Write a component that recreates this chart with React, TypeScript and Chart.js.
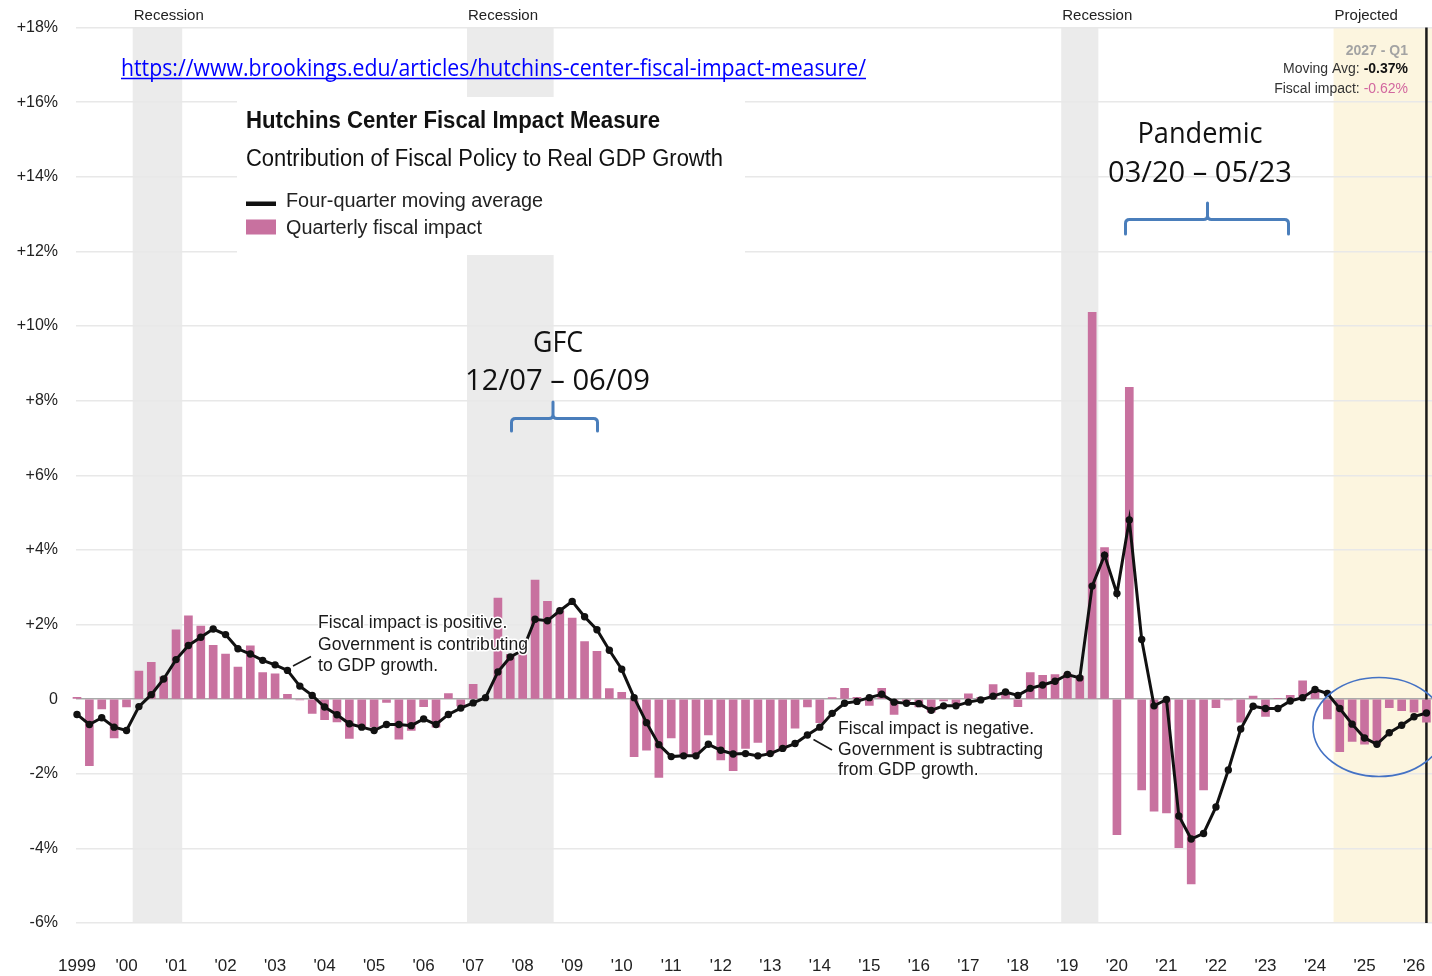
import React, { useEffect, useRef } from "react";
import { Chart, registerables } from "chart.js";

Chart.register(...registerables);

// Quarterly data: index 0 = 1999 Q4 ... index 109 = 2027 Q1
const quarterlyImpact: number[] = [
  0.05, -1.78, -0.26, -1.04, -0.21, 0.75, 0.99, 0.6, 1.86, 2.23,
  1.96, 1.44, 1.21, 0.86, 1.43, 0.71, 0.68, 0.13, -0.02, -0.38,
  -0.55, -0.61, -1.05, -0.75, -0.75, -0.09, -1.07, -0.84, -0.2, -0.75,
  0.15, -0.18, 0.4, 0.02, 2.71, 1.2, 1.19, 3.19, 2.62, 2.37,
  2.17, 1.54, 1.28, 0.28, 0.18, -1.54, -1.37, -2.1, -1.04, -1.49,
  -1.47, -0.96, -1.63, -1.92, -1.32, -1.16, -1.47, -1.34, -0.78, -0.21,
  -0.63, 0.04, 0.29, 0.05, -0.17, 0.29, -0.41, -0.05, -0.21, -0.35,
  -0.05, -0.12, 0.14, 0.05, 0.39, 0.15, -0.2, 0.71, 0.64, 0.66,
  0.68, 0.62, 10.37, 4.06, -3.63, 8.36, -2.43, -3.0, -3.05, -3.98,
  -4.95, -2.43, -0.23, -0.02, -0.62, 0.08, -0.46, 0.02, 0.1, 0.49,
  0.23, -0.53, -1.41, -1.13, -1.21, -1.2, -0.23, -0.31, -0.35, -0.62,
];

const movingAvg: number[] = [
  -0.41, -0.68, -0.5, -0.75, -0.84, -0.2, 0.12, 0.54, 1.06, 1.44,
  1.66, 1.88, 1.73, 1.35, 1.21, 1.04, 0.92, 0.77, 0.35, 0.1,
  -0.21, -0.42, -0.66, -0.75, -0.84, -0.68, -0.68, -0.71, -0.53, -0.68,
  -0.41, -0.24, -0.1, 0.04, 0.73, 1.13, 1.31, 2.14, 2.1, 2.37,
  2.62, 2.21, 1.86, 1.31, 0.8, 0.04, -0.63, -1.22, -1.54, -1.52,
  -1.52, -1.21, -1.37, -1.47, -1.46, -1.52, -1.46, -1.32, -1.19, -0.96,
  -0.75, -0.38, -0.11, -0.06, 0.04, 0.13, -0.08, -0.11, -0.12, -0.3,
  -0.18, -0.18, -0.08, -0.02, 0.08, 0.19, 0.1, 0.29, 0.38, 0.48,
  0.66, 0.57, 3.03, 3.86, 2.83, 4.8, 1.6, -0.18, -0.01, -3.13,
  -3.75, -3.6, -2.89, -1.9, -0.8, -0.19, -0.25, -0.25, -0.05, 0.04,
  0.26, 0.15, -0.25, -0.67, -1.04, -1.21, -0.9, -0.7, -0.47, -0.37,
];

// One label every 4 quarters, starting at index 0
const xTickLabels: string[] = [
  "1999", "'00", "'01", "'02", "'03", "'04", "'05", "'06", "'07", "'08",
  "'09", "'10", "'11", "'12", "'13", "'14", "'15", "'16", "'17", "'18",
  "'19", "'20", "'21", "'22", "'23", "'24", "'25", "'26",
];

const yMin = -6;
const yMax = 18;
const yStep = 2;

// Recessions (quarter indices, inclusive)
const recessionStart = [5, 32, 80];
const recessionEnd = [8, 38, 82];
const projectedStart = 102;
const lastQuarterName = "2027 - Q1";

const BAR_COLOR = "#c8719f";
const SANS = "'Liberation Sans', Arial, Helvetica, sans-serif";
const CAL = "'Open Sans', 'Noto Sans', sans-serif";
const BLUE_MARK = "#4a7ebb";

type TOpts = {
  size: number;
  family?: string;
  weight?: string;
  width?: number;
  scale?: number;
  align?: "left" | "center" | "right";
  color?: string;
  halo?: number;
};

function drawText(ctx: CanvasRenderingContext2D, text: string, x: number, y: number, o: TOpts): number {
  ctx.save();
  ctx.font = `${o.weight || "normal"} ${o.size}px ${o.family || SANS}`;
  const w = ctx.measureText(text).width;
  const s = o.scale ?? (o.width ? o.width / w : 1);
  const tw = w * s;
  const left = o.align === "center" ? x - tw / 2 : o.align === "right" ? x - tw : x;
  ctx.translate(left, y);
  ctx.scale(s, 1);
  ctx.textAlign = "left";
  ctx.textBaseline = "alphabetic";
  if (o.halo) {
    ctx.strokeStyle = "#ffffff";
    ctx.lineWidth = o.halo;
    ctx.lineJoin = "round";
    ctx.strokeText(text, 0, 0);
  }
  ctx.fillStyle = o.color || "#1a1a1a";
  ctx.fillText(text, 0, 0);
  ctx.restore();
  return tw;
}

function measure(ctx: CanvasRenderingContext2D, text: string, size: number, family = SANS, weight = "normal") {
  ctx.save();
  ctx.font = `${weight} ${size}px ${family}`;
  const w = ctx.measureText(text).width;
  ctx.restore();
  return w;
}

function bracket(ctx: CanvasRenderingContext2D, x1: number, x2: number, xm: number, yH: number, yEnd: number, yTip: number) {
  ctx.save();
  ctx.strokeStyle = BLUE_MARK;
  ctx.lineWidth = 3;
  ctx.lineJoin = "round";
  ctx.lineCap = "round";
  const r = 4;
  ctx.beginPath();
  ctx.moveTo(x1, yEnd);
  ctx.lineTo(x1, yH + r);
  ctx.quadraticCurveTo(x1, yH, x1 + r, yH);
  ctx.lineTo(xm - r, yH);
  ctx.quadraticCurveTo(xm, yH, xm, yH - r);
  ctx.lineTo(xm, yTip);
  ctx.moveTo(xm, yH - r);
  ctx.quadraticCurveTo(xm, yH, xm + r, yH);
  ctx.lineTo(x2 - r, yH);
  ctx.quadraticCurveTo(x2, yH, x2, yH + r);
  ctx.lineTo(x2, yEnd);
  ctx.stroke();
  ctx.restore();
}

const decorPlugin = {
  id: "decor",
  beforeDraw(chart: any) {
    const { ctx, chartArea: a } = chart;
    const xs = chart.scales.x;
    ctx.save();
    ctx.fillStyle = "#ffffff";
    ctx.fillRect(0, 0, chart.width, chart.height);
    ctx.fillStyle = "#ebebeb";
    recessionStart.forEach((s, k) => {
      const x1 = xs.getPixelForValue(s - 0.5);
      const x2 = xs.getPixelForValue(recessionEnd[k] + 0.5);
      ctx.fillRect(x1, a.top, x2 - x1, a.bottom - a.top);
    });
    ctx.fillStyle = "#fcf5df";
    const p1 = xs.getPixelForValue(projectedStart - 0.5);
    ctx.fillRect(p1, a.top, a.right - p1, a.bottom - a.top);
    ctx.restore();
  },
  beforeDatasetsDraw(chart: any) {
    const { ctx, chartArea: a } = chart;
    const xs = chart.scales.x;
    ctx.save();
    // legend / title box
    ctx.fillStyle = "#ffffff";
    ctx.fillRect(237, 97, 508, 158);
    // last-quarter marker line
    const xl = xs.getPixelForValue(quarterlyImpact.length - 1);
    ctx.strokeStyle = "#1a1a1a";
    ctx.lineWidth = 2.5;
    ctx.beginPath();
    ctx.moveTo(xl, a.top);
    ctx.lineTo(xl, a.bottom);
    ctx.stroke();
    ctx.restore();
  },
  afterDraw(chart: any) {
    const { ctx } = chart;
    const xs = chart.scales.x;

    // band labels
    recessionStart.forEach((s) => {
      drawText(ctx, "Recession", xs.getPixelForValue(s - 0.5) + 1, 20, { size: 15, color: "#222" });
    });
    drawText(ctx, "Projected", xs.getPixelForValue(projectedStart - 0.5) + 1, 20, { size: 15, color: "#222" });

    // hover readout
    const last = quarterlyImpact.length - 1;
    drawText(ctx, lastQuarterName, 1408, 55, { size: 14, weight: "bold", color: "#a3a3a3", align: "right" });
    const ma = movingAvg[last].toFixed(2) + "%";
    const fi = quarterlyImpact[last].toFixed(2) + "%";
    const w1 = drawText(ctx, ma, 1408, 72.5, { size: 14, weight: "bold", color: "#111", align: "right" });
    drawText(ctx, "Moving Avg: ", 1408 - w1, 72.5, { size: 14, color: "#333", align: "right" });
    const w2 = drawText(ctx, fi, 1408, 92.5, { size: 14, color: "#d2679f", align: "right" });
    drawText(ctx, "Fiscal impact: ", 1408 - w2, 92.5, { size: 14, color: "#333", align: "right" });

    // link
    const link = "https://www.brookings.edu/articles/hutchins-center-fiscal-impact-measure/";
    drawText(ctx, link, 121, 76, { size: 24, family: CAL, width: 745, color: "#0000ff" });
    ctx.save();
    ctx.strokeStyle = "#0000ff";
    ctx.lineWidth = 1.5;
    ctx.beginPath();
    ctx.moveTo(121, 78.5);
    ctx.lineTo(866, 78.5);
    ctx.stroke();
    ctx.restore();

    // legend box contents
    drawText(ctx, "Hutchins Center Fiscal Impact Measure", 246, 128, { size: 23, weight: "bold", width: 414, color: "#111" });
    drawText(ctx, "Contribution of Fiscal Policy to Real GDP Growth", 246, 166, { size: 23, width: 477, color: "#111" });
    ctx.save();
    ctx.fillStyle = "#111";
    ctx.fillRect(246, 201.5, 30, 4.5);
    ctx.fillStyle = BAR_COLOR;
    ctx.fillRect(246, 219.5, 30, 15);
    ctx.restore();
    drawText(ctx, "Four-quarter moving average", 286, 207, { size: 20, width: 257, color: "#222" });
    drawText(ctx, "Quarterly fiscal impact", 286, 234, { size: 20, width: 196, color: "#222" });

    // positive / negative notes
    const sPos = 210 / measure(ctx, "Government is contributing", 17.5);
    ["Fiscal impact is positive.", "Government is contributing", "to GDP growth."].forEach((t, i) => {
      drawText(ctx, t, 318, 628 + i * 21.5, { size: 17.5, scale: sPos, color: "#1a1a1a", halo: 3 });
    });
    const sNeg = 205 / measure(ctx, "Government is subtracting", 17.5);
    ["Fiscal impact is negative.", "Government is subtracting", "from GDP growth."].forEach((t, i) => {
      drawText(ctx, t, 838, 734 + i * 20.5, { size: 17.5, scale: sNeg, color: "#1a1a1a", halo: 3 });
    });
    ctx.save();
    ctx.strokeStyle = "#1a1a1a";
    ctx.lineWidth = 1.6;
    ctx.beginPath();
    ctx.moveTo(293, 666);
    ctx.lineTo(311, 656.5);
    ctx.moveTo(813.5, 739.5);
    ctx.lineTo(832, 750);
    ctx.stroke();
    ctx.restore();

    // event labels
    drawText(ctx, "GFC", 558, 352, { size: 29, family: CAL, width: 50, align: "center", color: "#111" });
    drawText(ctx, "12/07 \u2013 06/09", 557.5, 390, { size: 29, family: CAL, width: 185, align: "center", color: "#111" });
    bracket(ctx, 511.5, 597.5, 553, 418.5, 431, 402);
    drawText(ctx, "Pandemic", 1200, 143, { size: 29, family: CAL, width: 125, align: "center", color: "#111" });
    drawText(ctx, "03/20 \u2013 05/23", 1200, 182, { size: 29, family: CAL, width: 184, align: "center", color: "#111" });
    bracket(ctx, 1125.5, 1288.5, 1207.5, 219.5, 234, 203);

    // projection ellipse
    ctx.save();
    ctx.strokeStyle = "#4472c4";
    ctx.lineWidth = 1.6;
    ctx.beginPath();
    ctx.ellipse(1379, 727, 66, 49.5, 0, 0, Math.PI * 2);
    ctx.stroke();
    ctx.restore();
  },
};

export default function App() {
  const ref = useRef<HTMLCanvasElement>(null);

  useEffect(() => {
    const canvas = ref.current;
    if (!canvas) return;
    Chart.defaults.font.family = SANS;
    const chart = new Chart(canvas, {
      type: "bar",
      data: {
        datasets: [
          {
            type: "line",
            label: "Four-quarter moving average",
            data: movingAvg.map((v, i) => ({ x: i, y: v })),
            borderColor: "#111111",
            borderWidth: 3,
            pointRadius: 3.7,
            pointBackgroundColor: "#111111",
            pointBorderWidth: 0,
            tension: 0,
            order: 1,
            clip: 8,
          } as any,
          {
            type: "bar",
            label: "Quarterly fiscal impact",
            data: quarterlyImpact.map((v, i) => ({ x: i, y: v })),
            backgroundColor: BAR_COLOR,
            barThickness: 8,
            borderWidth: 0,
            order: 2,
            clip: 8,
          } as any,
        ],
      },
      options: {
        responsive: false,
        animation: false,
        devicePixelRatio: 1,
        layout: { padding: { top: 27, left: 0, right: 0, bottom: 0 }, autoPadding: false } as any,
        plugins: {
          legend: { display: false },
          tooltip: { enabled: false },
        },
        events: [],
        scales: {
          x: {
            type: "linear",
            offset: false,
            min: -0.08,
            max: 109.45,
            grid: { display: false, drawTicks: false, offset: false },
            border: { display: false },
            afterBuildTicks: (s: any) => {
              s.ticks = xTickLabels.map((_, i) => ({ value: i * 4 }));
            },
            afterFit: (s: any) => {
              s.height = 53;
            },
            ticks: {
              autoSkip: false,
              maxRotation: 0,
              minRotation: 0,
              padding: 0,
              color: "#222",
              font: { size: 17, family: SANS, lineHeight: 5.14 },
              callback: (_v: any, i: number) => xTickLabels[i] ?? "",
            },
          } as any,
          y: {
            min: yMin,
            max: yMax,
            grid: {
              drawTicks: false,
              lineWidth: 1.5,
              color: (c: any) => (c.tick && c.tick.value === 0 ? "#a9a9a9" : "#e8e8e8"),
            },
            border: { display: false },
            afterFit: (s: any) => {
              s.width = 76;
            },
            ticks: {
              stepSize: yStep,
              padding: 18,
              color: "#222",
              font: { size: 16, family: SANS },
              callback: (v: any) => (v > 0 ? `+${v}%` : v === 0 ? "0" : `${v}%`),
            },
          } as any,
        },
      },
      plugins: [decorPlugin],
    });
    return () => chart.destroy();
  }, []);

  return (
    <div style={{ position: "absolute", left: 0, top: 0, width: 1432, height: 976, background: "#fff" }}>
      <canvas ref={ref} width={1432} height={976} style={{ display: "block", width: 1432, height: 976 }} />
    </div>
  );
}
